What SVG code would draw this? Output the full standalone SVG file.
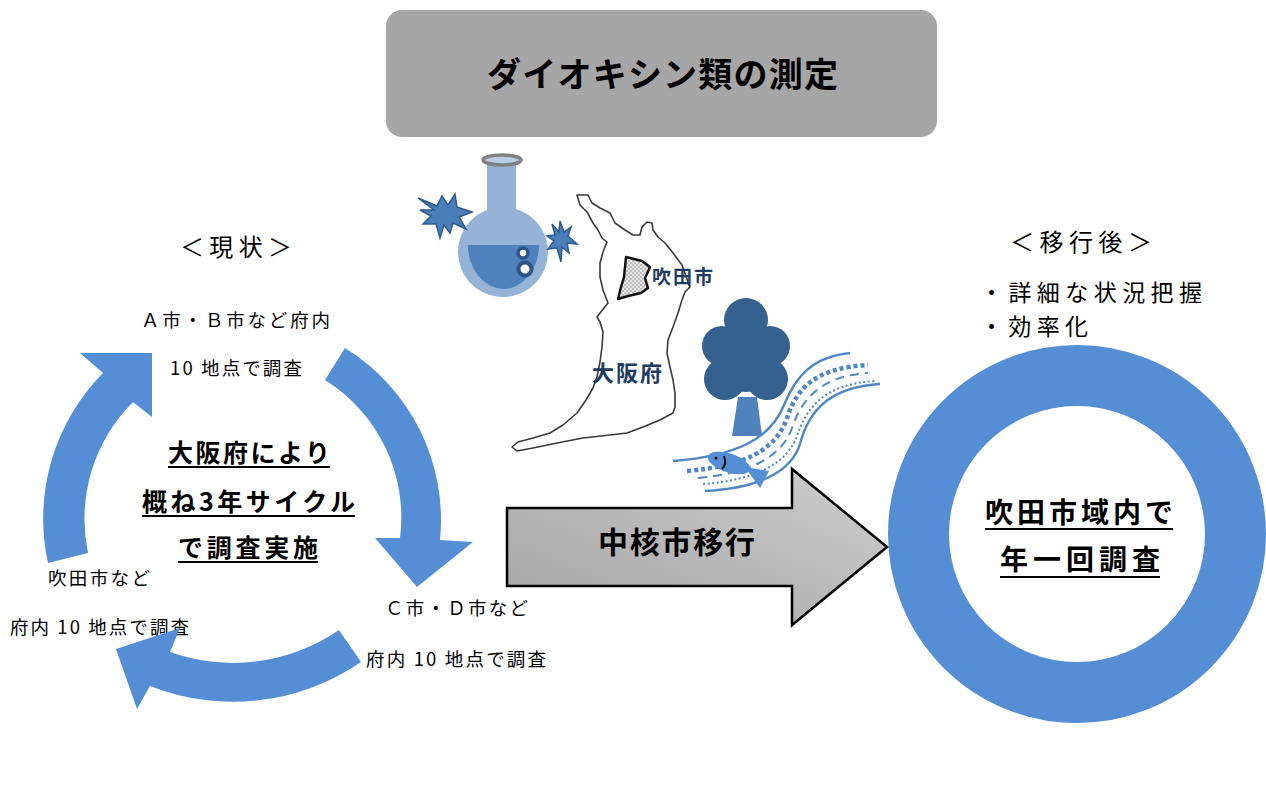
<svg xmlns="http://www.w3.org/2000/svg" width="1266" height="791" viewBox="0 0 1266 791">
  <defs>
    <style>
      .jp { font-family: "Noto Sans CJK JP", "Noto Sans", sans-serif; fill: #000; }
      .lbl { font-size: 18.5px; }
      .head { font-size: 24px; }
      .bold { font-weight: bold; }
      .cycle { fill: #558ED5; }
      .uline { stroke: #000; stroke-width: 2; }
      .mapname { font-family: "Noto Sans CJK JP", "Noto Sans", sans-serif; font-weight: bold; fill: #1F3B63; }
      .river { fill: none; stroke: #4F86C6; }
      .burst { fill: #4A7EBB; stroke: #2E5A8C; stroke-width: 1.5; stroke-linejoin: miter; }
    </style>
    <linearGradient id="arrowFill" x1="0" y1="1" x2="1" y2="0">
      <stop offset="0" stop-color="#A4A4A4"/>
      <stop offset="1" stop-color="#CDCDCD"/>
    </linearGradient>
    <pattern id="checks" width="4" height="4" patternUnits="userSpaceOnUse">
      <rect width="4" height="4" fill="#E6E6E6"/>
      <rect width="2" height="2" fill="#BDBDBD"/>
      <rect x="2" y="2" width="2" height="2" fill="#BDBDBD"/>
    </pattern>
  </defs>

  <rect width="1266" height="791" fill="#FFFFFF"/>

  <!-- title banner -->
  <g id="title">
    <rect x="386" y="10" width="551" height="127" rx="16" ry="16" fill="#A6A6A6"/>
    <text class="jp bold" x="487" y="87" font-size="34" textLength="351" lengthAdjust="spacing">ダイオキシン類の測定</text>
  </g>

  <!-- flask with two bursts -->
  <g id="flask">
    <rect x="487" y="162" width="29" height="66" fill="#95B3D7"/>
    <circle cx="503" cy="252" r="45" fill="#95B3D7"/>
    <path d="M468,245 H539 A35.5,44 0 0 1 468,245 Z" fill="#4F81BD"/>
    <circle cx="523" cy="253" r="5" fill="#FFFFFF" stroke="#2D5486" stroke-width="3.5"/>
    <circle cx="525" cy="269" r="6.5" fill="#FFFFFF" stroke="#2D5486" stroke-width="4"/>
    <ellipse cx="502" cy="160" rx="19" ry="5" fill="#B9CDE5" stroke="#808080" stroke-width="3.5"/>
    <polygon class="burst" points="418,198 437,206 442,196 448,205 455,194 457,207 472,212 459,217 466,229 453,223 450,233 444,225 440,238 436,224 423,224 431,216 420,210 434,210"/>
    <polygon class="burst" points="552,224 559,232 560,221 564,232 571,227 568,236 577,244 567,243 569,253 562,247 561,262 557,248 548,249 554,241 547,236 555,235"/>
  </g>

  <!-- Osaka prefecture outline with Suita -->
  <g id="osaka-map">
    <path d="M577,195 L588,195 L592,203 L600,208 L610,213 L615,223 L625,230 L633,235 L640,235 L642,227 L647,222 L652,223 L653,230 L658,237 L665,243 L673,253 L682,265 L688,282 L690,287 L685,292 L682,300 L678,313 L673,327 L668,340 L667,353 L670,367 L673,380 L675,393 L675,407 L673,413 L660,420 L643,427 L627,433 L610,435 L583,438 L557,443 L533,448 L517,451 L512,447 L518,442 L533,438 L550,433 L563,425 L577,413 L586,400 L593,388 L597,377 L600,362 L602,347 L603,332 L600,322 L597,317 L600,313 L608,303 L603,290 L600,277 L600,263 L603,252 L607,242 L602,238 L598,230 L593,223 L587,212 L580,205 Z" fill="#FFFFFF" stroke="#3A3A3A" stroke-width="1.6" stroke-linejoin="round"/>
    <path d="M626,257 L642,261 L650,267 L647,274 L645,278 L648,288 L641,293 L628,296 L618,299 L621,287 L624,277 L625,267 Z" fill="url(#checks)" stroke="#111" stroke-width="2.5" stroke-linejoin="round"/>
    <text class="mapname" x="652" y="284" font-size="19" textLength="61" lengthAdjust="spacing">吹田市</text>
    <text class="mapname" x="592" y="381" font-size="22" textLength="70" lengthAdjust="spacing">大阪府</text>
  </g>

  <!-- tree, river and fish -->
  <g id="nature">
    <path class="river" stroke-width="2.5" d="M673,461 C735,456 770,440 784,405 C796,376 812,357 850,353"/>
    <path class="river" stroke-width="4.5" stroke-dasharray="4,3" d="M687,471 C745,466 776,450 787,418 C797,388 815,368 868,365"/>
    <path class="river" stroke-width="2" stroke-dasharray="9,6" d="M698,478 C752,473 782,456 792,428 C802,398 822,376 868,373"/>
    <path class="river" stroke-width="2" stroke-dasharray="2,2.5" d="M703,484 C757,480 787,463 797,436 C807,405 827,384 875,381"/>
    <path class="river" stroke-width="2.5" d="M705,491 C762,488 792,470 800,444 C809,410 830,387 880,384"/>
    <polygon points="738,397 757,397 762,436 732,436" fill="#4F81BD"/>
    <g fill="#35618F">
      <circle cx="746" cy="320" r="22"/>
      <circle cx="722" cy="346" r="20"/>
      <circle cx="770" cy="346" r="20"/>
      <circle cx="725" cy="379" r="21"/>
      <circle cx="767" cy="379" r="21"/>
      <ellipse cx="746" cy="358" rx="28" ry="34"/>
    </g>
    <polygon points="745,467 769,471 760,488" fill="#558ED5"/>
    <ellipse cx="729" cy="463" rx="22" ry="9.5" transform="rotate(18 729 463)" fill="#558ED5"/>
    <circle cx="716" cy="458" r="1.5" fill="#111"/>
    <path d="M724,456 Q727,464 722,469" fill="none" stroke="#111" stroke-width="2"/>
  </g>

  <!-- current situation -->
  <g id="current-label">
    <text class="jp head" x="180" y="256" textLength="112" lengthAdjust="spacing">＜現状＞</text>
  </g>

  <g id="cycle-center">
    <text class="jp bold" x="168" y="462" font-size="25" textLength="162" lengthAdjust="spacing">大阪府により</text>
    <line class="uline" x1="168" y1="467" x2="330" y2="467"/>
    <text class="jp bold" x="142" y="511" font-size="25" textLength="213" lengthAdjust="spacing">概ね3年サイクル</text>
    <line class="uline" x1="142" y1="516" x2="355" y2="516"/>
    <text class="jp bold" x="178" y="557" font-size="25" textLength="140" lengthAdjust="spacing">で調査実施</text>
    <line class="uline" x1="178" y1="562" x2="318" y2="562"/>
  </g>

  <g id="site-ab">
    <text class="jp lbl" x="141" y="327" textLength="189" lengthAdjust="spacing">Ａ市・Ｂ市など府内</text>
    <text class="jp lbl" x="170" y="375" textLength="132" lengthAdjust="spacing">10 地点で調査</text>
  </g>

  <g id="site-cd">
    <text class="jp lbl" x="385" y="615" textLength="143" lengthAdjust="spacing">Ｃ市・Ｄ市など</text>
    <text class="jp lbl" x="366" y="666" textLength="180" lengthAdjust="spacing">府内 10 地点で調査</text>
  </g>

  <g id="site-suita">
    <text class="jp lbl" x="48" y="585" textLength="102" lengthAdjust="spacing">吹田市など</text>
    <text class="jp lbl" x="10" y="634" textLength="179" lengthAdjust="spacing">府内 10 地点で調査</text>
  </g>

  <!-- after transition -->
  <g id="after-label">
    <text class="jp head" x="1010" y="251" textLength="142" lengthAdjust="spacing">＜移行後＞</text>
    <text class="jp" x="980" y="301" font-size="23" textLength="222" lengthAdjust="spacing">・詳細な状況把握</text>
    <text class="jp" x="980" y="335" font-size="23" textLength="108" lengthAdjust="spacing">・効率化</text>
  </g>

  <g id="suita-survey">
    <circle cx="1077" cy="534" r="158.5" fill="none" stroke="#558ED5" stroke-width="61"/>
    <text class="jp bold" x="985" y="523" font-size="28" textLength="188" lengthAdjust="spacing">吹田市域内で</text>
    <line class="uline" x1="985" y1="529" x2="1173" y2="529"/>
    <text class="jp bold" x="1000" y="570" font-size="28" textLength="160" lengthAdjust="spacing">年一回調査</text>
    <line class="uline" x1="1000" y1="577" x2="1160" y2="577"/>
  </g>

  <!-- connectors: survey cycle and transition arrow -->
  <g id="connectors">
    <path class="cycle" d="M48,563 A207,207 0 0 1 103,373 L80,353 L152,353 L152,417 L133,402 A165,165 0 0 0 88,553 Z"/>
    <path class="cycle" d="M345,348 A202,202 0 0 1 440,540 L473,542 L417,587 L375,538 L400,538 A162,162 0 0 0 325,380 Z"/>
    <path class="cycle" d="M339,630 A187,187 0 0 1 170,652 L180,628 L116,649 L137,709 L150,686 A226,226 0 0 0 361,662 Z"/>
    <g id="transition">
      <path d="M507,508 H792 V469 L887,547 L792,625 V586 H507 Z" fill="url(#arrowFill)" stroke="#000" stroke-width="2.5" stroke-linejoin="miter"/>
      <text class="jp bold" x="598" y="553" font-size="30" textLength="157" lengthAdjust="spacing">中核市移行</text>
    </g>
  </g>
</svg>
